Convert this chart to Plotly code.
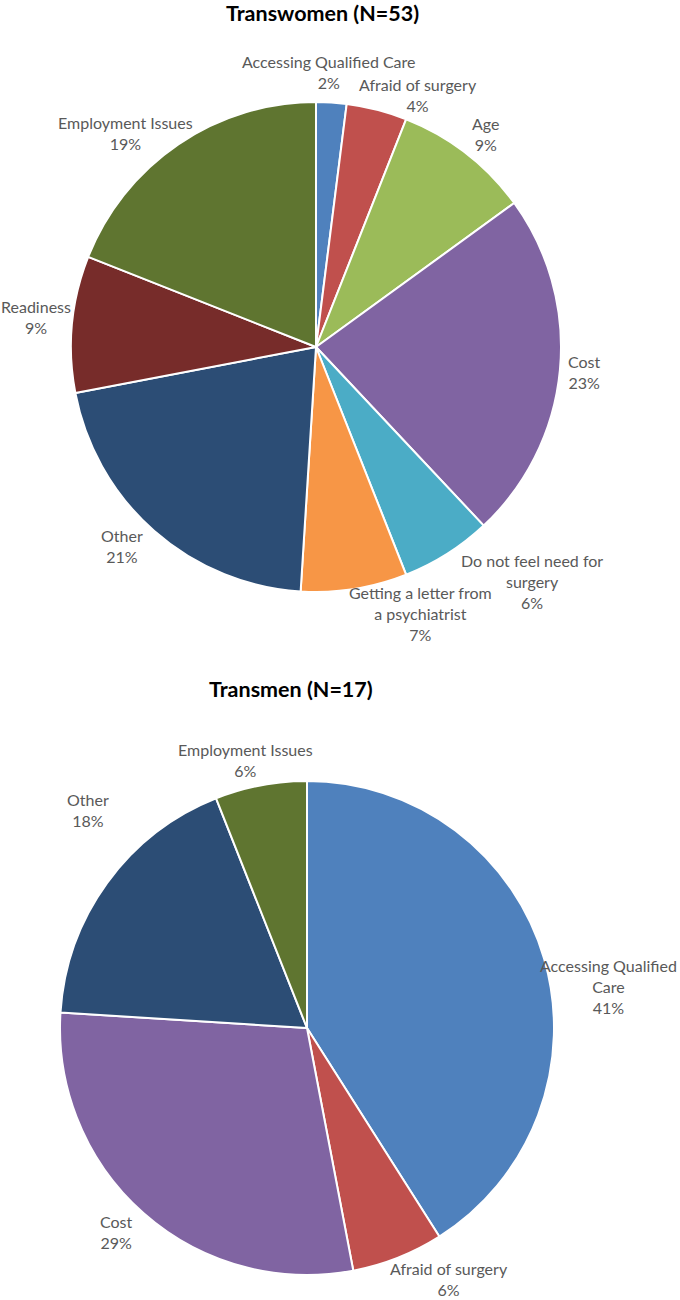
import math
import plotly.graph_objects as go

# ---- data ----
women_labels = ["Accessing Qualified Care", "Afraid of surgery", "Age", "Cost",
                "Do not feel need for surgery", "Getting a letter from a psychiatrist",
                "Other", "Readiness", "Employment Issues"]
women_values = [2, 4, 9, 23, 6, 7, 21, 9, 19]
women_text = ["Accessing Qualified Care", "Afraid of surgery", "Age", "Cost",
              "Do not feel need for<br>surgery", "Getting a letter from<br>a psychiatrist",
              "Other", "Readiness", "Employment Issues"]

men_labels = ["Accessing Qualified Care", "Afraid of surgery", "Cost", "Other", "Employment Issues"]
men_values = [41, 6, 29, 18, 6]
men_text = ["Accessing Qualified<br>Care", "Afraid of surgery", "Cost", "Other", "Employment Issues"]

women_title = "Transwomen (N=53)"
men_title = "Transmen (N=17)"

# ---- style ----
W, H = 680, 1300
colors = {
    "Accessing Qualified Care": "#4F81BD",
    "Afraid of surgery": "#C0504D",
    "Age": "#9BBB59",
    "Cost": "#8064A2",
    "Do not feel need for surgery": "#4BACC6",
    "Getting a letter from a psychiatrist": "#F79646",
    "Other": "#2C4D75",
    "Readiness": "#772C2A",
    "Employment Issues": "#5F7530",
}
# pie geometry (pixels): center x, center y, radius
women_geo = (316, 347, 245)
men_geo = (307, 1028, 247)
# label placement tweaks: (radial factor, angular nudge in degrees)
women_lbl = [(1.124, -0.9), (1.110, 7.6), (1.112, 0.8), (1.099, -0.1), (1.303, -10.2),
             (1.167, -12.5), (1.134, 2.9), (1.149, 0.7), (1.171, -7.5)]
men_lbl = [(1.234, 8.3), (1.168, -7.8), (1.129, 1.6), (1.251, 8.9), (1.114, -2.2)]

FONT = "Lato, Carlito, Calibri, sans-serif"
TXT = "#595959"

fig = go.Figure()
annotations = []


def add_pie(labels, values, texts, geo, tweaks, title, title_y, title_x):
    cx, cy, r = geo
    fig.add_trace(go.Pie(
        labels=labels, values=values, sort=False, direction="clockwise", rotation=0,
        textinfo="none", hoverinfo="label+percent",
        marker=dict(colors=[colors[l] for l in labels], line=dict(color="white", width=2)),
        domain=dict(x=[(cx - r) / W, (cx + r) / W], y=[1 - (cy + r) / H, 1 - (cy - r) / H]),
        showlegend=False,
    ))
    total = sum(values)
    cum = 0
    for v, t, (k, d) in zip(values, texts, tweaks):
        mid = (cum + v / 2) / total * 360
        cum += v
        a = math.radians(mid + d)
        px = cx + k * r * math.sin(a)
        py = cy - k * r * math.cos(a)
        pct = round(v / total * 100)
        annotations.append(dict(
            x=px / W, y=1 - py / H, xref="paper", yref="paper",
            text=f"{t}<br>{pct}%", showarrow=False, xanchor="center", yanchor="middle",
            align="center", font=dict(family=FONT, size=16, color=TXT),
        ))
    annotations.append(dict(
        x=title_x / W, y=1 - title_y / H, xref="paper", yref="paper", text=f"<b>{title}</b>",
        showarrow=False, xanchor="center", yanchor="middle",
        font=dict(family=FONT, size=21.5, color="#000000"),
    ))


add_pie(women_labels, women_values, women_text, women_geo, women_lbl, women_title, 13, 322)
add_pie(men_labels, men_values, men_text, men_geo, men_lbl, men_title, 689, 291)

fig.update_layout(
    width=W, height=H, margin=dict(l=0, r=0, t=0, b=0),
    paper_bgcolor="white", plot_bgcolor="white",
    annotations=annotations, showlegend=False,
)

fig.write_html("out.html", config={"displayModeBar": False},
               post_script="document.body.style.margin='0';")
